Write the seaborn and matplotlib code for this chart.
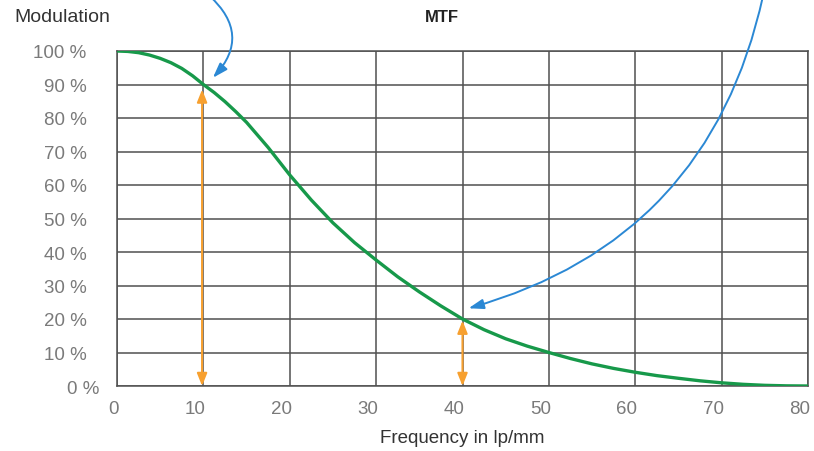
import numpy as np
import pandas as pd
import matplotlib
matplotlib.use("Agg")
import matplotlib.pyplot as plt
import matplotlib.transforms as mtransforms
import seaborn as sns

# ---- data ----
freq = [0, 1.25, 2.5, 3.75, 5, 6.25, 7.5, 8.75, 10, 11.25, 12.5, 13.75, 15,
        17.5, 20, 22.5, 25, 27.5, 30, 32.5, 35, 37.5, 40, 42.5, 45, 47.5, 50,
        52.5, 55, 57.5, 60, 62.5, 65, 67.5, 70, 72.5, 75, 77.5, 80]
mtf = [100, 99.87, 99.5, 98.8, 97.8, 96.5, 94.8, 92.6, 90.0, 87.6, 84.9, 81.9,
       78.7, 71.2, 63.0, 55.5, 48.7, 42.8, 37.6, 32.6, 28.1, 23.9, 20.0, 16.8,
       14.1, 11.9, 10.0, 8.2, 6.6, 5.25, 4.1, 3.1, 2.3, 1.55, 0.95, 0.5, 0.2,
       0.05, 0.0]
x_ticks = [0, 10, 20, 30, 40, 50, 60, 70, 80]
y_ticks = [0, 10, 20, 30, 40, 50, 60, 70, 80, 90, 100]
y_labels = [f"{v} %" for v in y_ticks]
# orange measurement arrows: (frequency, top value)
marks_x = [9.85, 40]
marks_top = [88.5, 19.5]
# blue call-out arrows: tip and start (start above the plot)
callout_tip = [(11.1, 92.0), (40.7, 23.2)]
callout_start = [(10.7, 116.5), (74.8, 116.5)]
callout_rad = [-0.5, -0.3]

title = "MTF"
ylab = "Modulation"
xlab = "Frequency in lp/mm"

GREEN = "#17994a"
ORANGE = "#f7a02f"
BLUE = "#2b88d4"
GRID = "#505050"
TICKC = "#7a7a7a"
TEXTC = "#333333"

sns.set_theme(style="white")
plt.rcParams["font.family"] = ["Liberation Sans", "DejaVu Sans"]

fig = plt.figure(figsize=(8.14, 4.52), dpi=100)
ax = fig.add_axes([117 / 814, 1 - 387 / 452, (808 - 117) / 814, (387 - 52) / 452])

df = pd.DataFrame({"freq": freq, "mtf": mtf})
sns.lineplot(data=df, x="freq", y="mtf", ax=ax, color=GREEN, linewidth=2.4,
             zorder=3, sort=True, solid_joinstyle="round", solid_capstyle="round")

ax.set_xlim(0, 80)
ax.set_ylim(0, 100)
ax.set_xticks(x_ticks)
ax.set_yticks(y_ticks)
ax.set_xticklabels([str(v) for v in x_ticks])
ax.set_yticklabels(y_labels)
ax.grid(True, color=GRID, linewidth=1.1)
ax.set_axisbelow(True)
for s in ax.spines.values():
    s.set_color(GRID)
    s.set_linewidth(1.1)
ax.tick_params(axis="both", length=0, labelsize=13.5, colors=TICKC)
ax.tick_params(axis="x", pad=10)
ax.tick_params(axis="y", pad=22)

# x labels right-aligned just past the grid line
off_x = mtransforms.ScaledTranslation(2 / 100, 0, fig.dpi_scale_trans)
for lab in ax.get_xticklabels():
    lab.set_ha("right")
    lab.set_transform(lab.get_transform() + off_x)
# "0 %" sits further right in the reference
off_y0 = mtransforms.ScaledTranslation(13 / 100, 0, fig.dpi_scale_trans)
lab0 = ax.get_yticklabels()[0]
lab0.set_transform(lab0.get_transform() + off_y0)

ax.set_xlabel(xlab, fontsize=13.5, color=TEXTC, labelpad=9)
ax.set_ylabel("")

fig.text(14 / 814, 1 - 18 / 452, ylab, fontsize=14, color=TEXTC,
         ha="left", va="center")
fig.text(442 / 814, 1 - 18 / 452, title, fontsize=12, fontweight="bold",
         color="#222222", ha="center", va="center")

# orange double arrows
for mx, mt in zip(marks_x, marks_top):
    ax.annotate("", xy=(mx, mt), xytext=(mx, 0), xycoords="data",
                arrowprops=dict(arrowstyle="<|-|>,head_length=0.75,head_width=0.3",
                                color=ORANGE, lw=1.5, shrinkA=0, shrinkB=0,
                                mutation_scale=10), zorder=4)

# blue curved call-outs
for (tx, ty), (sx, sy), rad in zip(callout_tip, callout_start, callout_rad):
    ax.annotate("", xy=(tx, ty), xytext=(sx, sy), xycoords="data",
                textcoords="data", annotation_clip=False,
                arrowprops=dict(arrowstyle="-|>,head_length=0.9,head_width=0.3",
                                color=BLUE, lw=1.4, shrinkA=0, shrinkB=0,
                                mutation_scale=10,
                                connectionstyle=f"arc3,rad={rad}"), zorder=5)

fig.savefig("out.png", dpi=100, facecolor="white")
